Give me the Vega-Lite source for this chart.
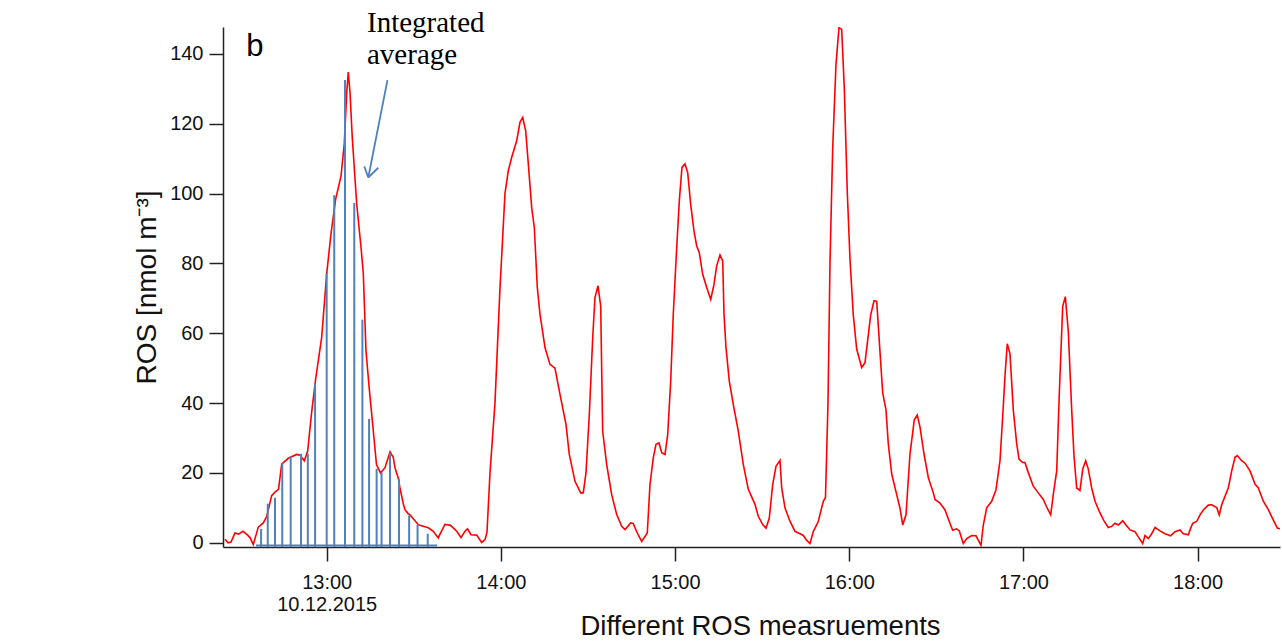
{
  "$schema": "https://vega.github.io/schema/vega-lite/v6.json",
  "width": 1057,
  "height": 520,
  "autosize": {"type": "none"},
  "padding": {"left": 223, "top": 27, "right": 2, "bottom": 97},
  "background": "white",
  "config": {
    "view": {"stroke": null},
    "font": "Liberation Sans",
    "axis": {"grid": false, "domainColor": "#222", "tickColor": "#222", "labelColor": "#111", "titleColor": "#111", "domainWidth": 1.5, "tickWidth": 1.5, "labelFont": "Liberation Sans", "titleFont": "Liberation Sans", "titleFontWeight": "normal"}
  },
  "datasets": {
    "curve": [
      {"t": "12:24:58", "v": 1.0}, {"t": "12:26:00", "v": 0.0}, {"t": "12:27:02", "v": 0.2}, {"t": "12:28:25", "v": 2.8},
      {"t": "12:29:37", "v": 2.5}, {"t": "12:31:10", "v": 3.3}, {"t": "12:32:22", "v": 2.5}, {"t": "12:33:35", "v": 1.5},
      {"t": "12:34:43", "v": -0.5}, {"t": "12:36:26", "v": 4.5}, {"t": "12:38:10", "v": 5.7}, {"t": "12:39:20", "v": 7.5},
      {"t": "12:41:03", "v": 13.5}, {"t": "12:42:11", "v": 14.5}, {"t": "12:43:24", "v": 15.3}, {"t": "12:44:30", "v": 22.5},
      {"t": "12:46:46", "v": 24.2}, {"t": "12:49:40", "v": 25.3}, {"t": "12:50:48", "v": 25.1}, {"t": "12:52:17", "v": 23.5},
      {"t": "12:53:27", "v": 26.3}, {"t": "12:54:50", "v": 37.5}, {"t": "12:56:13", "v": 47.0}, {"t": "12:58:17", "v": 58.9},
      {"t": "13:00:00", "v": 77.0}, {"t": "13:01:29", "v": 88.5}, {"t": "13:03:06", "v": 98.5}, {"t": "13:04:56", "v": 105.0},
      {"t": "13:06:04", "v": 114.3}, {"t": "13:06:53", "v": 128.7}, {"t": "13:07:26", "v": 134.8}, {"t": "13:08:02", "v": 129.0},
      {"t": "13:08:49", "v": 116.0}, {"t": "13:10:20", "v": 97.1}, {"t": "13:11:49", "v": 84.7}, {"t": "13:12:37", "v": 77.1},
      {"t": "13:13:32", "v": 55.0}, {"t": "13:14:34", "v": 45.0}, {"t": "13:15:57", "v": 33.0}, {"t": "13:17:09", "v": 22.4},
      {"t": "13:18:32", "v": 20.0}, {"t": "13:20:05", "v": 21.5}, {"t": "13:21:49", "v": 26.0}, {"t": "13:22:56", "v": 24.5},
      {"t": "13:23:32", "v": 21.5}, {"t": "13:24:40", "v": 18.5}, {"t": "13:25:15", "v": 15.7}, {"t": "13:26:23", "v": 11.2},
      {"t": "13:26:58", "v": 9.5}, {"t": "13:28:07", "v": 8.3}, {"t": "13:28:41", "v": 8.0}, {"t": "13:29:50", "v": 6.9},
      {"t": "13:31:33", "v": 5.2}, {"t": "13:32:08", "v": 5.0}, {"t": "13:35:00", "v": 4.3}, {"t": "13:36:43", "v": 3.3},
      {"t": "13:38:26", "v": 1.4}, {"t": "13:39:02", "v": 2.5}, {"t": "13:40:45", "v": 5.3}, {"t": "13:42:39", "v": 5.0},
      {"t": "13:44:47", "v": 3.3}, {"t": "13:46:16", "v": 1.5}, {"t": "13:47:38", "v": 3.3}, {"t": "13:48:30", "v": 4.0},
      {"t": "13:49:43", "v": 2.3}, {"t": "13:51:40", "v": 2.2}, {"t": "13:53:23", "v": 0.1}, {"t": "13:54:32", "v": 0.9},
      {"t": "13:55:13", "v": 3.0}, {"t": "13:56:15", "v": 20.0}, {"t": "13:57:58", "v": 40.0}, {"t": "13:59:42", "v": 73.0},
      {"t": "14:01:25", "v": 100.0}, {"t": "14:02:33", "v": 106.5}, {"t": "14:03:44", "v": 110.4}, {"t": "14:05:27", "v": 115.1},
      {"t": "14:06:35", "v": 120.4}, {"t": "14:07:31", "v": 121.8}, {"t": "14:08:33", "v": 118.0}, {"t": "14:09:27", "v": 108.5},
      {"t": "14:10:37", "v": 96.0}, {"t": "14:11:31", "v": 90.3}, {"t": "14:12:33", "v": 73.1}, {"t": "14:13:29", "v": 65.4},
      {"t": "14:15:12", "v": 55.9}, {"t": "14:16:55", "v": 51.1}, {"t": "14:18:38", "v": 50.0}, {"t": "14:20:22", "v": 42.5},
      {"t": "14:22:26", "v": 33.9}, {"t": "14:23:34", "v": 25.3}, {"t": "14:25:32", "v": 17.6}, {"t": "14:27:30", "v": 14.3},
      {"t": "14:28:23", "v": 14.3}, {"t": "14:29:19", "v": 20.0}, {"t": "14:30:28", "v": 36.8}, {"t": "14:31:38", "v": 58.7},
      {"t": "14:32:25", "v": 70.2}, {"t": "14:33:28", "v": 73.6}, {"t": "14:34:23", "v": 67.8}, {"t": "14:35:04", "v": 32.0},
      {"t": "14:36:27", "v": 22.4}, {"t": "14:38:10", "v": 13.8}, {"t": "14:39:54", "v": 8.1}, {"t": "14:41:37", "v": 4.7},
      {"t": "14:42:46", "v": 3.8}, {"t": "14:44:43", "v": 5.7}, {"t": "14:45:37", "v": 5.5}, {"t": "14:46:59", "v": 2.8},
      {"t": "14:48:31", "v": 0.4}, {"t": "14:50:26", "v": 2.8}, {"t": "14:51:22", "v": 16.7}, {"t": "14:52:30", "v": 24.3},
      {"t": "14:53:26", "v": 28.2}, {"t": "14:54:28", "v": 28.6}, {"t": "14:55:24", "v": 25.8}, {"t": "14:56:32", "v": 25.3},
      {"t": "14:57:28", "v": 31.0}, {"t": "14:58:30", "v": 46.3}, {"t": "14:59:23", "v": 65.4}, {"t": "15:00:34", "v": 84.5},
      {"t": "15:01:28", "v": 97.9}, {"t": "15:02:23", "v": 107.5}, {"t": "15:03:25", "v": 108.5}, {"t": "15:04:21", "v": 106.0},
      {"t": "15:05:23", "v": 97.0}, {"t": "15:06:31", "v": 89.3}, {"t": "15:07:27", "v": 85.0}, {"t": "15:08:21", "v": 83.1},
      {"t": "15:09:31", "v": 76.9}, {"t": "15:10:54", "v": 73.1}, {"t": "15:12:17", "v": 69.7}, {"t": "15:13:25", "v": 74.0},
      {"t": "15:14:20", "v": 79.3}, {"t": "15:15:29", "v": 82.4}, {"t": "15:16:25", "v": 80.7}, {"t": "15:16:52", "v": 65.4},
      {"t": "15:17:33", "v": 55.9}, {"t": "15:18:41", "v": 46.3}, {"t": "15:20:04", "v": 39.6}, {"t": "15:21:47", "v": 32.0},
      {"t": "15:23:31", "v": 22.4}, {"t": "15:25:14", "v": 15.3}, {"t": "15:27:32", "v": 11.0}, {"t": "15:28:40", "v": 7.6},
      {"t": "15:30:11", "v": 5.2}, {"t": "15:31:20", "v": 4.2}, {"t": "15:32:28", "v": 7.1}, {"t": "15:33:38", "v": 16.7},
      {"t": "15:34:46", "v": 21.9}, {"t": "15:36:09", "v": 23.6}, {"t": "15:36:44", "v": 15.7}, {"t": "15:37:52", "v": 10.0},
      {"t": "15:39:35", "v": 6.2}, {"t": "15:41:19", "v": 3.3}, {"t": "15:43:02", "v": 2.6}, {"t": "15:44:10", "v": 2.1},
      {"t": "15:45:21", "v": 0.7}, {"t": "15:46:29", "v": -0.2}, {"t": "15:47:37", "v": 3.2}, {"t": "15:49:20", "v": 6.1},
      {"t": "15:51:04", "v": 11.9}, {"t": "15:51:49", "v": 13.0}, {"t": "15:52:41", "v": 40.0}, {"t": "15:53:22", "v": 80.0},
      {"t": "15:54:18", "v": 113.0}, {"t": "15:55:26", "v": 137.0}, {"t": "15:56:28", "v": 147.5}, {"t": "15:57:24", "v": 147.0},
      {"t": "15:58:18", "v": 130.2}, {"t": "15:59:20", "v": 100.3}, {"t": "16:00:16", "v": 81.1}, {"t": "16:01:24", "v": 65.2},
      {"t": "16:02:34", "v": 55.5}, {"t": "16:04:17", "v": 50.2}, {"t": "16:05:26", "v": 51.6}, {"t": "16:07:23", "v": 65.2},
      {"t": "16:08:32", "v": 69.3}, {"t": "16:09:28", "v": 69.1}, {"t": "16:10:36", "v": 54.6}, {"t": "16:11:32", "v": 42.9},
      {"t": "16:12:40", "v": 38.0}, {"t": "16:13:27", "v": 28.4}, {"t": "16:14:38", "v": 19.7}, {"t": "16:16:21", "v": 13.8},
      {"t": "16:17:29", "v": 9.9}, {"t": "16:18:25", "v": 5.1}, {"t": "16:19:33", "v": 8.0}, {"t": "16:20:56", "v": 25.5},
      {"t": "16:22:25", "v": 35.2}, {"t": "16:23:26", "v": 36.6}, {"t": "16:24:22", "v": 33.2}, {"t": "16:25:45", "v": 25.5},
      {"t": "16:27:14", "v": 18.7}, {"t": "16:28:58", "v": 14.3}, {"t": "16:29:32", "v": 12.4}, {"t": "16:31:16", "v": 11.4},
      {"t": "16:32:59", "v": 9.4}, {"t": "16:34:28", "v": 6.1}, {"t": "16:35:38", "v": 3.6}, {"t": "16:37:01", "v": 4.0},
      {"t": "16:37:55", "v": 3.4}, {"t": "16:39:17", "v": -0.2}, {"t": "16:40:28", "v": 1.2}, {"t": "16:42:11", "v": 2.1},
      {"t": "16:43:40", "v": 2.0}, {"t": "16:45:23", "v": -0.7}, {"t": "16:46:11", "v": 5.1}, {"t": "16:47:21", "v": 10.0},
      {"t": "16:49:04", "v": 11.9}, {"t": "16:50:33", "v": 15.2}, {"t": "16:51:56", "v": 23.5}, {"t": "16:53:04", "v": 39.1},
      {"t": "16:53:39", "v": 47.8}, {"t": "16:54:26", "v": 57.0}, {"t": "16:55:23", "v": 54.1}, {"t": "16:56:31", "v": 38.0},
      {"t": "16:57:41", "v": 28.4}, {"t": "16:58:29", "v": 24.0}, {"t": "16:59:45", "v": 23.0}, {"t": "17:00:32", "v": 23.0},
      {"t": "17:01:41", "v": 20.1}, {"t": "17:03:24", "v": 16.2}, {"t": "17:05:07", "v": 14.3}, {"t": "17:06:51", "v": 12.4},
      {"t": "17:08:13", "v": 9.9}, {"t": "17:09:24", "v": 8.0}, {"t": "17:10:17", "v": 13.8}, {"t": "17:11:28", "v": 20.6},
      {"t": "17:12:22", "v": 42.9}, {"t": "17:13:32", "v": 67.7}, {"t": "17:14:26", "v": 70.5}, {"t": "17:15:28", "v": 60.4},
      {"t": "17:16:38", "v": 38.0}, {"t": "17:17:25", "v": 25.0}, {"t": "17:18:21", "v": 15.7}, {"t": "17:19:29", "v": 15.0},
      {"t": "17:20:25", "v": 21.1}, {"t": "17:21:27", "v": 23.5}, {"t": "17:22:21", "v": 21.1}, {"t": "17:23:31", "v": 15.7},
      {"t": "17:24:40", "v": 11.9}, {"t": "17:26:08", "v": 9.0}, {"t": "17:27:46", "v": 6.3}, {"t": "17:29:14", "v": 4.4},
      {"t": "17:30:25", "v": 4.7}, {"t": "17:31:33", "v": 5.6}, {"t": "17:32:41", "v": 5.1}, {"t": "17:34:12", "v": 6.3},
      {"t": "17:35:20", "v": 5.1}, {"t": "17:36:43", "v": 3.7}, {"t": "17:38:26", "v": 3.2}, {"t": "17:39:34", "v": 1.7},
      {"t": "17:41:05", "v": -0.2}, {"t": "17:41:53", "v": 2.1}, {"t": "17:43:01", "v": 1.2}, {"t": "17:44:11", "v": 2.6},
      {"t": "17:45:20", "v": 4.4}, {"t": "17:47:03", "v": 3.4}, {"t": "17:48:46", "v": 2.6}, {"t": "17:50:44", "v": 2.0},
      {"t": "17:52:13", "v": 3.2}, {"t": "17:53:56", "v": 3.7}, {"t": "17:55:04", "v": 2.6}, {"t": "17:56:48", "v": 2.3},
      {"t": "17:57:37", "v": 4.2}, {"t": "17:58:19", "v": 5.6}, {"t": "17:59:41", "v": 6.1}, {"t": "18:00:50", "v": 8.0},
      {"t": "18:01:58", "v": 9.4}, {"t": "18:03:41", "v": 10.8}, {"t": "18:04:52", "v": 10.9}, {"t": "18:06:35", "v": 10.1},
      {"t": "18:07:28", "v": 8.0}, {"t": "18:08:18", "v": 10.9}, {"t": "18:10:34", "v": 15.7}, {"t": "18:11:45", "v": 20.6},
      {"t": "18:12:53", "v": 24.5}, {"t": "18:13:41", "v": 25.0}, {"t": "18:15:11", "v": 23.5}, {"t": "18:16:20", "v": 22.8},
      {"t": "18:18:03", "v": 20.6}, {"t": "18:19:46", "v": 16.8}, {"t": "18:20:55", "v": 15.7}, {"t": "18:22:38", "v": 11.9},
      {"t": "18:24:22", "v": 9.5}, {"t": "18:26:05", "v": 6.5}, {"t": "18:27:28", "v": 4.2}, {"t": "18:28:23", "v": 4.0}
    ],
    "stems": [
      {"t": "12:37:24", "v": 4.0}, {"t": "12:39:42", "v": 11.2}, {"t": "12:42:12", "v": 12.9}, {"t": "12:44:42", "v": 22.8},
      {"t": "12:47:36", "v": 24.7}, {"t": "12:51:09", "v": 25.5}, {"t": "12:53:30", "v": 25.5}, {"t": "12:56:00", "v": 45.6},
      {"t": "13:00:00", "v": 77.1}, {"t": "13:02:36", "v": 99.5}, {"t": "13:06:18", "v": 132.5}, {"t": "13:09:30", "v": 97.3},
      {"t": "13:12:18", "v": 63.9}, {"t": "13:14:36", "v": 35.5}, {"t": "13:17:12", "v": 21.2}, {"t": "13:18:54", "v": 20.2},
      {"t": "13:21:48", "v": 25.7}, {"t": "13:24:54", "v": 18.3}, {"t": "13:28:24", "v": 7.8}, {"t": "13:31:18", "v": 5.2},
      {"t": "13:34:48", "v": 2.6}
    ],
    "baseline": [{"start": "12:35:39", "end": "13:38:00"}],
    "arrow": [
      {"t1": "13:20:56", "v1": 132.5, "t2": "13:14:20", "v2": 104.6},
      {"t1": "13:12:57", "v1": 107.8, "t2": "13:14:20", "v2": 104.6},
      {"t1": "13:17:46", "v1": 107.4, "t2": "13:14:20", "v2": 104.6}
    ],
    "panel": [{"t": "12:35:18", "v": 141.9, "label": "b"}],
    "note": [{"t": "13:13:53", "v": 146.4, "label": ["Integrated", "average"]}]
  },
  "layer": [
    {
      "data": {"name": "curve", "format": {"parse": {"t": "utc:'%H:%M:%S'"}}},
      "mark": {"type": "line", "color": "#ff0000", "strokeWidth": 1.6, "clip": true},
      "encoding": {
        "x": {
          "field": "t", "type": "temporal",
          "title": "Different ROS measruements",
          "scale": {"type": "utc", "domain": [{"year": 1900, "month": 1, "date": 1, "hours": 12, "minutes": 24, "seconds": 17, "utc": true}, {"year": 1900, "month": 1, "date": 1, "hours": 18, "minutes": 28, "seconds": 23, "utc": true}], "nice": false},
          "axis": {
            "titleFontSize": 27.5, "titlePadding": -2, "titleX": 537,
            "values": [
              {"year": 1900, "month": 1, "date": 1, "hours": 13, "utc": true},
              {"year": 1900, "month": 1, "date": 1, "hours": 14, "utc": true},
              {"year": 1900, "month": 1, "date": 1, "hours": 15, "utc": true},
              {"year": 1900, "month": 1, "date": 1, "hours": 16, "utc": true},
              {"year": 1900, "month": 1, "date": 1, "hours": 17, "utc": true},
              {"year": 1900, "month": 1, "date": 1, "hours": 18, "utc": true}
            ],
            "labelExpr": "utcFormat(datum.value, '%H:%M') == '13:00' ? ['13:00', '10.12.2015'] : utcFormat(datum.value, '%H:%M')",
            "labelFontSize": 20, "labelLineHeight": 22, "labelPadding": 11, "tickSize": 14, "labelFlush": false
          }
        },
        "y": {
          "field": "v", "type": "quantitative",
          "title": "ROS [nmol m⁻³]",
          "scale": {"domain": [-1.2, 147.7], "nice": false, "zero": false},
          "axis": {
            "titleFontSize": 28, "titlePadding": 8,
            "values": [0, 20, 40, 60, 80, 100, 120, 140],
            "labelFontSize": 20, "labelPadding": 6, "tickSize": 14
          }
        }
      }
    },
    {
      "data": {"name": "stems", "format": {"parse": {"t": "utc:'%H:%M:%S'"}}},
      "mark": {"type": "rule", "color": "#4f81bd", "strokeWidth": 2},
      "encoding": {
        "x": {"field": "t", "type": "temporal", "title": "Different ROS measruements"},
        "y": {"field": "v", "type": "quantitative", "title": "ROS [nmol m⁻³]"},
        "y2": {"datum": -1.2}
      }
    },
    {
      "data": {"name": "baseline", "format": {"parse": {"start": "utc:'%H:%M:%S'", "end": "utc:'%H:%M:%S'"}}},
      "mark": {"type": "rule", "color": "#4f81bd", "strokeWidth": 2},
      "encoding": {
        "x": {"field": "start", "type": "temporal", "title": "Different ROS measruements"},
        "x2": {"field": "end"},
        "y": {"datum": -0.8, "type": "quantitative", "title": "ROS [nmol m⁻³]"}
      }
    },
    {
      "data": {"name": "arrow", "format": {"parse": {"t1": "utc:'%H:%M:%S'", "t2": "utc:'%H:%M:%S'"}}},
      "mark": {"type": "rule", "color": "#4f81bd", "strokeWidth": 1.8},
      "encoding": {
        "x": {"field": "t1", "type": "temporal", "title": "Different ROS measruements"},
        "x2": {"field": "t2"},
        "y": {"field": "v1", "type": "quantitative", "title": "ROS [nmol m⁻³]"},
        "y2": {"field": "v2"}
      }
    },
    {
      "data": {"name": "panel", "format": {"parse": {"t": "utc:'%H:%M:%S'"}}},
      "mark": {"type": "text", "font": "Liberation Sans", "fontSize": 31, "align": "center", "baseline": "middle", "color": "#000"},
      "encoding": {
        "x": {"field": "t", "type": "temporal", "title": "Different ROS measruements"},
        "y": {"field": "v", "type": "quantitative", "title": "ROS [nmol m⁻³]"},
        "text": {"field": "label"}
      }
    },
    {
      "data": {"name": "note", "format": {"parse": {"t": "utc:'%H:%M:%S'"}}},
      "mark": {"type": "text", "font": "Liberation Serif", "fontSize": 29, "align": "left", "baseline": "alphabetic", "lineHeight": 32, "color": "#000"},
      "encoding": {
        "x": {"field": "t", "type": "temporal", "title": "Different ROS measruements"},
        "y": {"field": "v", "type": "quantitative", "title": "ROS [nmol m⁻³]"},
        "text": {"field": "label"}
      }
    }
  ]
}
